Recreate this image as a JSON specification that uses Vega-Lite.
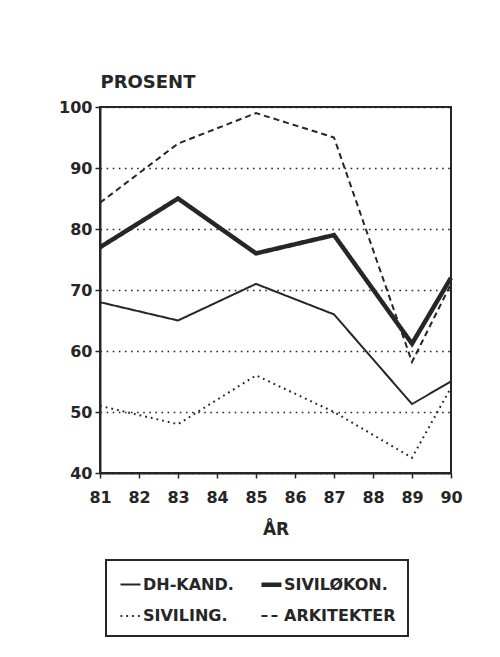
{
  "$schema": "https://vega.github.io/schema/vega-lite/v6.json",
  "width": 351,
  "height": 366,
  "autosize": {"type": "none"},
  "padding": {"left": 100, "top": 107, "right": 49, "bottom": 184},
  "background": "white",
  "data": {
    "values": [
      {"aar": 81, "verdi": 68, "gruppe": "DH-KAND."},
      {"aar": 83, "verdi": 65, "gruppe": "DH-KAND."},
      {"aar": 85, "verdi": 71, "gruppe": "DH-KAND."},
      {"aar": 87, "verdi": 66, "gruppe": "DH-KAND."},
      {"aar": 89, "verdi": 51.3, "gruppe": "DH-KAND."},
      {"aar": 90, "verdi": 55, "gruppe": "DH-KAND."},
      {"aar": 81, "verdi": 77, "gruppe": "SIVILØKON."},
      {"aar": 83, "verdi": 85, "gruppe": "SIVILØKON."},
      {"aar": 85, "verdi": 76, "gruppe": "SIVILØKON."},
      {"aar": 87, "verdi": 79, "gruppe": "SIVILØKON."},
      {"aar": 89, "verdi": 61.2, "gruppe": "SIVILØKON."},
      {"aar": 90, "verdi": 72, "gruppe": "SIVILØKON."},
      {"aar": 81, "verdi": 51, "gruppe": "SIVILING."},
      {"aar": 83, "verdi": 48, "gruppe": "SIVILING."},
      {"aar": 85, "verdi": 56, "gruppe": "SIVILING."},
      {"aar": 87, "verdi": 50, "gruppe": "SIVILING."},
      {"aar": 89, "verdi": 42.5, "gruppe": "SIVILING."},
      {"aar": 90, "verdi": 54, "gruppe": "SIVILING."},
      {"aar": 81, "verdi": 84.3, "gruppe": "ARKITEKTER"},
      {"aar": 83, "verdi": 94, "gruppe": "ARKITEKTER"},
      {"aar": 85, "verdi": 99, "gruppe": "ARKITEKTER"},
      {"aar": 87, "verdi": 95, "gruppe": "ARKITEKTER"},
      {"aar": 89, "verdi": 58.2, "gruppe": "ARKITEKTER"},
      {"aar": 90, "verdi": 71, "gruppe": "ARKITEKTER"}
    ]
  },
  "mark": {"type": "line", "color": "#262626", "strokeJoin": "miter"},
  "encoding": {
    "x": {
      "field": "aar",
      "type": "quantitative",
      "scale": {"domain": [81, 90], "nice": false, "zero": false},
      "axis": {
        "title": "ÅR",
        "values": [81, 82, 83, 84, 85, 86, 87, 88, 89, 90],
        "format": "d",
        "grid": false,
        "labelFlush": false,
        "tickSize": 5,
        "labelPadding": 11,
        "titlePadding": 16
      }
    },
    "y": {
      "field": "verdi",
      "type": "quantitative",
      "scale": {"domain": [40, 100], "nice": false, "zero": false},
      "axis": {
        "title": "PROSENT",
        "values": [40, 50, 60, 70, 80, 90, 100],
        "grid": true,
        "gridDash": [1.6, 4.5],
        "gridColor": "#262626",
        "gridWidth": 1.6,
        "gridOpacity": 1,
        "labelPadding": 3,
        "titleAngle": 0,
        "titleAlign": "left",
        "titleBaseline": "alphabetic",
        "titleX": 0,
        "titleY": -20,
        "titleFontSize": 18
      }
    },
    "strokeDash": {
      "field": "gruppe",
      "type": "nominal",
      "scale": {
        "domain": ["DH-KAND.", "SIVILØKON.", "SIVILING.", "ARKITEKTER"],
        "range": [[1, 0], [1, 0], [1.8, 4], [6, 4]]
      },
      "legend": {
        "title": null,
        "orient": "none",
        "legendX": 6,
        "legendY": 453,
        "columns": 2,
        "direction": "horizontal"
      }
    },
    "strokeWidth": {
      "field": "gruppe",
      "type": "nominal",
      "scale": {
        "type": "ordinal",
        "domain": ["DH-KAND.", "SIVILØKON.", "SIVILING.", "ARKITEKTER"],
        "range": [2, 4.5, 2, 2]
      },
      "legend": {
        "title": null,
        "orient": "none",
        "legendX": 6,
        "legendY": 453,
        "columns": 2,
        "direction": "horizontal"
      }
    }
  },
  "config": {
    "font": "DejaVu Sans",
    "view": {"stroke": "#262626", "strokeWidth": 2},
    "axis": {
      "labelFont": "DejaVu Sans",
      "labelFontWeight": "bold",
      "labelFontSize": 16,
      "labelColor": "#262626",
      "titleFont": "DejaVu Sans",
      "titleFontWeight": "bold",
      "titleFontSize": 17,
      "titleColor": "#262626",
      "domainColor": "#262626",
      "domainWidth": 2,
      "tickColor": "#262626",
      "tickWidth": 1.5,
      "tickSize": 5
    },
    "legend": {
      "strokeColor": "#262626",
      "strokeWidth": 2,
      "padding": 12,
      "symbolType": "stroke",
      "symbolSize": 400,
      "symbolStrokeColor": "#262626",
      "labelFont": "DejaVu Sans",
      "labelFontWeight": "bold",
      "labelFontSize": 16,
      "labelColor": "#262626",
      "labelOffset": 0,
      "columnPadding": 18,
      "rowPadding": 11,
      "labelLimit": 200
    }
  }
}
